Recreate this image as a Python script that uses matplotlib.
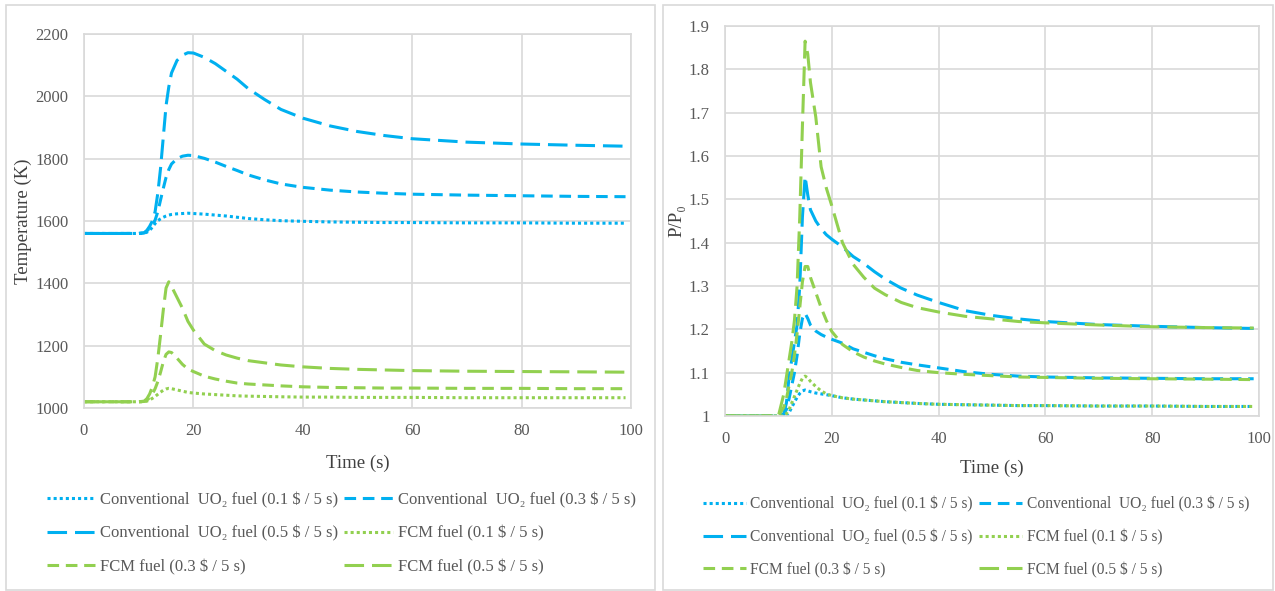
import matplotlib.pyplot as plt
from matplotlib.patches import Rectangle
from matplotlib.ticker import FuncFormatter

plt.rcParams['font.family'] = ['Liberation Serif', 'DejaVu Serif']

# time grid (s) shared by all series
time_s = [0, 10, 11, 11.5, 12, 12.5, 13, 13.5, 14, 14.5, 15, 15.5, 16, 17, 18, 19, 20,
          22, 24, 26, 28, 30, 33, 36, 40, 45, 50, 55, 60, 70, 80, 90, 99]

# fuel temperature (K)
conv_01_temp = [1560, 1560, 1561, 1564, 1570, 1580, 1592, 1601, 1607, 1612, 1616, 1619, 1621, 1623, 1624, 1625, 1624,
                1622, 1619, 1616, 1612, 1608, 1604, 1601, 1599, 1597, 1596, 1595, 1595, 1594, 1594, 1593, 1593]
conv_03_temp = [1560, 1560, 1562, 1568, 1577, 1588, 1603, 1630, 1668, 1705, 1740, 1765, 1783, 1800, 1808, 1811, 1810,
                1801, 1789, 1775, 1762, 1748, 1732, 1719, 1708, 1699, 1693, 1689, 1686, 1683, 1681, 1679, 1678]
conv_05_temp = [1560, 1560, 1562, 1570, 1583, 1600, 1630, 1690, 1770, 1870, 1970, 2030, 2075, 2115, 2132, 2140, 2139,
                2125, 2105, 2080, 2055, 2025, 1990, 1958, 1930, 1905, 1887, 1874, 1864, 1853, 1847, 1843, 1840]
fcm_01_temp = [1020, 1020, 1020, 1022, 1026, 1031, 1037, 1044, 1051, 1057, 1061, 1063, 1062, 1058, 1054, 1050, 1048,
               1045, 1043, 1041, 1039, 1038, 1037, 1036, 1035, 1035, 1034, 1034, 1034, 1033, 1033, 1033, 1033]
fcm_03_temp = [1020, 1020, 1021, 1025, 1033, 1045, 1062, 1085, 1115, 1148, 1172, 1180, 1178, 1160, 1140, 1125, 1117,
               1102, 1093, 1086, 1080, 1077, 1074, 1071, 1068, 1066, 1065, 1064, 1064, 1063, 1063, 1062, 1062]
fcm_05_temp = [1020, 1020, 1022, 1030, 1045, 1068, 1100, 1160, 1235, 1315, 1385, 1405, 1390, 1355, 1320, 1278, 1250,
               1205, 1184, 1170, 1160, 1152, 1145, 1138, 1132, 1127, 1124, 1122, 1120, 1118, 1117, 1116, 1115]

# relative power P/P0
conv_01_pow = [1.0, 1.0, 1.0, 1.0, 1.008, 1.02, 1.032, 1.043, 1.052, 1.058, 1.06, 1.058, 1.056, 1.053, 1.051, 1.049, 1.047,
               1.042, 1.039, 1.037, 1.035, 1.033, 1.031, 1.029, 1.027, 1.026, 1.025, 1.024, 1.024, 1.023, 1.023, 1.022, 1.022]
conv_03_pow = [1.0, 1.0, 1.003, 1.015, 1.04, 1.07, 1.10, 1.14, 1.19, 1.225, 1.237, 1.225, 1.21, 1.196, 1.188, 1.182, 1.177,
               1.168, 1.155, 1.147, 1.139, 1.132, 1.124, 1.118, 1.111, 1.102, 1.096, 1.092, 1.09, 1.088, 1.087, 1.086, 1.086]
conv_05_pow = [1.0, 1.0, 1.005, 1.03, 1.09, 1.13, 1.17, 1.21, 1.30, 1.46, 1.553, 1.51, 1.476, 1.45, 1.432, 1.418, 1.408,
               1.39, 1.368, 1.352, 1.333, 1.316, 1.295, 1.279, 1.262, 1.243, 1.232, 1.224, 1.218, 1.211, 1.207, 1.204, 1.202]
fcm_01_pow = [1.0, 1.0, 1.0, 1.005, 1.015, 1.03, 1.045, 1.06, 1.075, 1.087, 1.092, 1.088, 1.08, 1.068, 1.058, 1.051, 1.047,
              1.042, 1.039, 1.037, 1.035, 1.033, 1.031, 1.029, 1.027, 1.026, 1.025, 1.024, 1.024, 1.023, 1.023, 1.022, 1.022]
fcm_03_pow = [1.0, 1.0, 1.02, 1.04, 1.07, 1.10, 1.14, 1.19, 1.25, 1.31, 1.345, 1.345, 1.32, 1.285, 1.25, 1.22, 1.195,
              1.165, 1.148, 1.136, 1.127, 1.12, 1.112, 1.105, 1.1, 1.096, 1.093, 1.09, 1.089, 1.087, 1.086, 1.085, 1.084]
fcm_05_pow = [1.0, 1.0, 1.05, 1.09, 1.13, 1.17, 1.22, 1.30, 1.46, 1.67, 1.865, 1.835, 1.77, 1.69, 1.575, 1.525, 1.485,
              1.40, 1.35, 1.32, 1.295, 1.28, 1.262, 1.25, 1.24, 1.23, 1.224, 1.218, 1.215, 1.21, 1.206, 1.204, 1.203]

labels = ['Conventional  UO\u2082 fuel (0.1 $ / 5 s)', 'Conventional  UO\u2082 fuel (0.3 $ / 5 s)',
          'Conventional  UO\u2082 fuel (0.5 $ / 5 s)', 'FCM fuel (0.1 $ / 5 s)',
          'FCM fuel (0.3 $ / 5 s)', 'FCM fuel (0.5 $ / 5 s)']

blue = '#00b0f0'
green = '#92d050'
dot = (0, (1, 1))
dash = (0, (3.8, 2.2))
longdash = (0, (6.4, 2.6))
colors = [blue, blue, blue, green, green, green]
styles = [dot, dash, longdash, dot, dash, longdash]

grid_c = '#d9d9d9'
tick_c = '#595959'
title_c = '#404040'

fig = plt.figure(figsize=(12.75, 5.91), dpi=100)

# panel borders
fig.patches.append(Rectangle((6 / 1275, 1 / 591), 649 / 1275, 585 / 591, transform=fig.transFigure,
                             fill=False, edgecolor=grid_c, lw=1.2))
fig.patches.append(Rectangle((663 / 1275, 1 / 591), 610 / 1275, 585 / 591, transform=fig.transFigure,
                             fill=False, edgecolor=grid_c, lw=1.2))

ax1 = fig.add_axes([84 / 1275, 1 - 408 / 591, 547 / 1275, 374 / 591])
ax2 = fig.add_axes([725 / 1275, 1 - 416 / 591, 534 / 1275, 390 / 591])


def style_axes(ax):
    ax.set_xlim(0, 100)
    ax.set_xticks(range(0, 101, 20))
    ax.grid(True, color=grid_c, lw=1.2)
    ax.set_axisbelow(True)
    for s in ax.spines.values():
        s.set_color(grid_c)
        s.set_linewidth(1.2)
    ax.tick_params(length=0, pad=11, labelsize=12, colors=tick_c)


temps = [conv_01_temp, conv_03_temp, conv_05_temp, fcm_01_temp, fcm_03_temp, fcm_05_temp]
pows = [conv_01_pow, conv_03_pow, conv_05_pow, fcm_01_pow, fcm_03_pow, fcm_05_pow]

for vals, c, ls, lab in zip(temps, colors, styles, labels):
    ax1.plot(time_s, vals, color=c, ls=ls, lw=2.2, label=lab)
for vals, c, ls, lab in zip(pows, colors, styles, labels):
    ax2.plot(time_s, vals, color=c, ls=ls, lw=2.2, label=lab)

style_axes(ax1)
ax1.set_ylim(1000, 2200)
ax1.set_yticks(range(1000, 2201, 200))
ax1.set_xlabel('Time (s)', fontsize=13.5, color=title_c)
ax1.set_ylabel('Temperature (K)', fontsize=13.5, color=title_c)
ax1.xaxis.set_label_coords(0.5, -0.125)
ax1.yaxis.set_label_coords(-0.095, 0.5)

style_axes(ax2)
ax2.set_ylim(1.0, 1.9)
ax2.set_yticks([1.0 + 0.1 * i for i in range(10)])
ax2.yaxis.set_major_formatter(FuncFormatter(lambda v, p: f'{v:g}'))
ax2.set_xlabel('Time (s)', fontsize=13.5, color=title_c)
ax2.set_ylabel('P/P\u2080', fontsize=13.5, color=title_c)
ax2.xaxis.set_label_coords(0.5, -0.113)
ax2.yaxis.set_label_coords(-0.074, 0.5)

# legends: entries ordered row by row like the original
order = [0, 2, 4, 1, 3, 5]
for ax, fs, x, y, hl, cs, ls_ in [(ax1, 12, 47 / 1275, 1 - 492 / 591, 2.9, 0.35, 1.05),
                                  (ax2, 11.2, 703 / 1275, 1 - 496 / 591, 2.75, 0.4, 1.08)]:
    h, l = ax.get_legend_handles_labels()
    leg = ax.legend([h[i] for i in order], [l[i] for i in order], ncol=2, loc='upper left',
                    bbox_to_anchor=(x, y), bbox_transform=fig.transFigure, frameon=False,
                    fontsize=fs, borderpad=0, borderaxespad=0, handlelength=hl,
                    handletextpad=0.3, columnspacing=cs, labelspacing=ls_)
    for t in leg.get_texts():
        t.set_color(tick_c)

fig.savefig('out.png', dpi=100)
